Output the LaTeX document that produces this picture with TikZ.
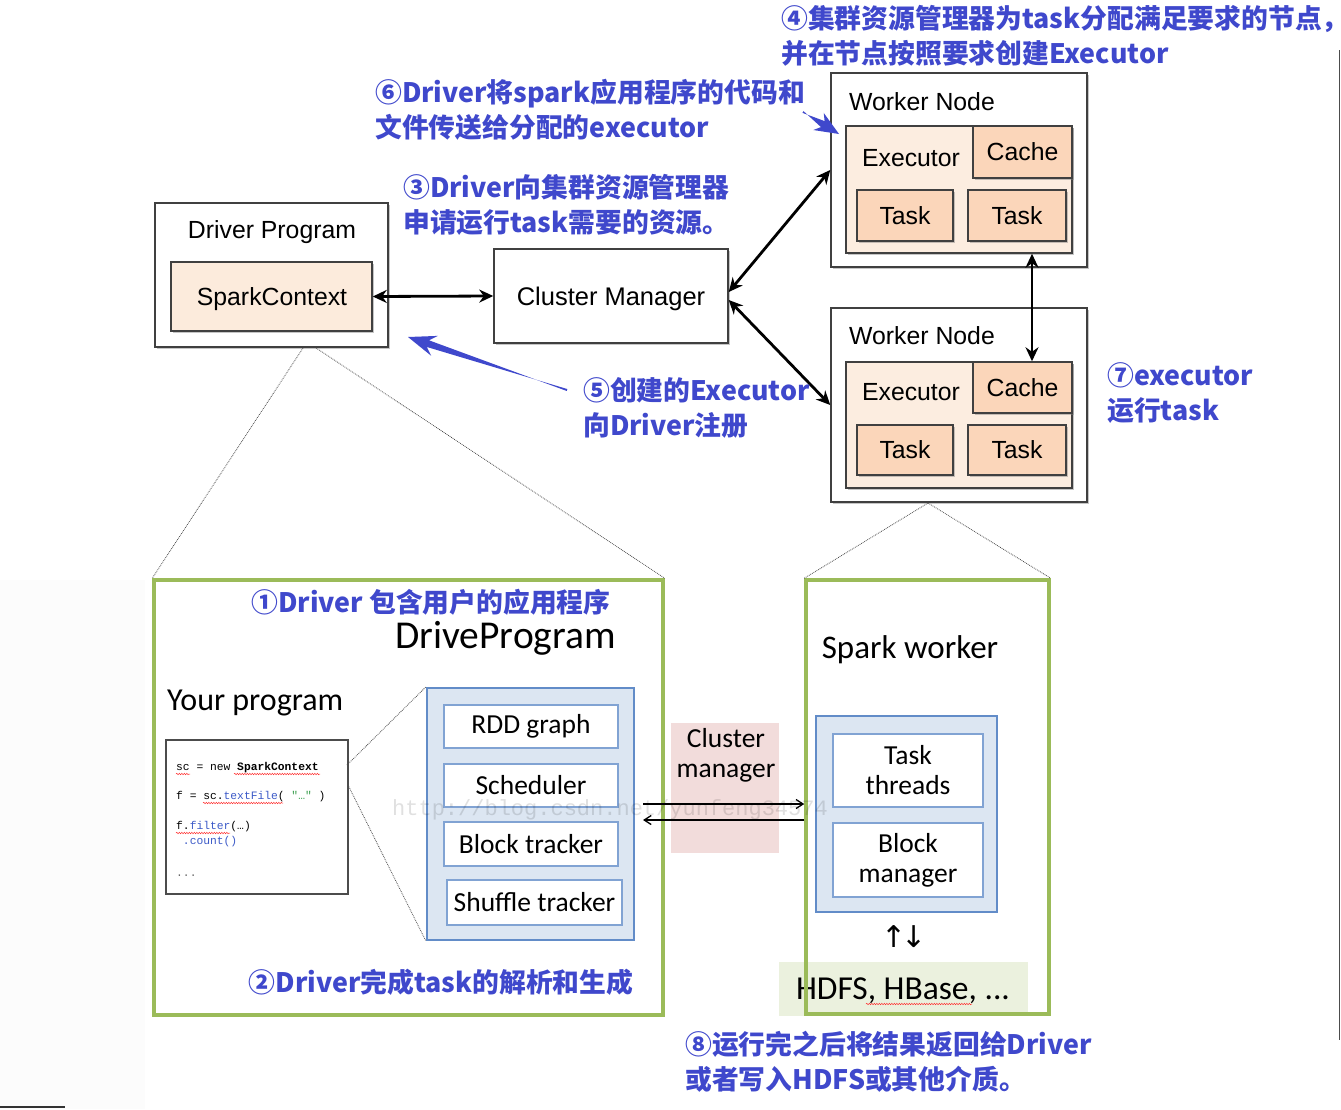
\documentclass[tikz,border=0pt]{standalone}
\usepackage{fontspec}
\setmainfont{Liberation Sans}
\newfontfamily\cjkfont{Noto Sans CJK SC}
\newfontfamily\calfont{Carlito}
\newfontfamily\codefont{Liberation Mono}
\newfontfamily\symfont{DejaVu Sans}
\usetikzlibrary{arrows.meta,shadows,calc,decorations.pathmorphing}
\definecolor{lblue}{RGB}{63,72,204}
\definecolor{peachl}{RGB}{252,237,224}
\definecolor{peachd}{RGB}{251,214,186}
\definecolor{sgreen}{RGB}{155,187,89}
\definecolor{bfill}{RGB}{220,230,242}
\definecolor{bline}{RGB}{98,140,200}
\definecolor{cmpink}{RGB}{242,220,219}
\definecolor{hgreen}{RGB}{235,241,222}
\definecolor{codeblue}{RGB}{60,90,200}
\definecolor{codegreen}{RGB}{60,160,80}
\begin{document}
\begin{tikzpicture}[x=1pt,y=-1pt,
  box/.style={draw=black!75,line width=1.5pt,fill=white,inner sep=0pt,
    drop shadow={shadow xshift=1.5pt,shadow yshift=-1.5pt,fill=black!50,opacity=.45}},
  pbox/.style={box,fill=peachl},
  dbox/.style={box,fill=peachd},
  hv/.style={font=\fontsize{24.8}{28}\selectfont,inner sep=0pt},
  lab/.style={text=lblue,font=\cjkfont\bfseries\fontsize{26.8}{35}\selectfont,align=left,inner sep=0pt},
  blk2/.style={{Stealth[length=14pt,width=13pt]}-{Stealth[length=14pt,width=13pt]},line width=2.8pt},
  dots/.style={densely dotted,black!70,line width=0.8pt},
  gbox/.style={draw=sgreen,line width=3.5pt,inner sep=0pt},
  bluebox/.style={draw=bline,line width=2.2pt,fill=bfill,inner sep=0pt},
  wbox/.style={draw=bline!80,line width=1.3pt,fill=white,inner sep=0pt,
    font=\calfont\fontsize{27.5}{30}\selectfont,align=center},
  cal/.style={font=\calfont\fontsize{#1}{#1}\selectfont,inner sep=0pt},
  code/.style={font=\codefont\fontsize{11.3}{12}\selectfont,inner sep=0pt,anchor=west},
  snake/.style={red!80,line width=0.5pt,decorate,decoration={snake,amplitude=0.7pt,segment length=2.5pt}},
]
\useasboundingbox (0,0) rectangle (1341,1109);
\fill[white] (0,0) rectangle (1341,1109);
\fill[black!1] (0,580) rectangle (145,1109);

% ---------------- top diagram ----------------
\node[box,minimum width=233pt,minimum height=144pt] (dp) at (271.5,275) {};
\node[hv] (dpt) at (272,232) {Driver Program};
\node[box,fill=peachl!90!peachd,minimum width=201pt,minimum height=69pt] (sc) at (271.5,296.5) {};
\node[hv] (sct) at (272,299) {SparkContext};
\node[box,minimum width=234pt,minimum height=94pt] (cm) at (611,296) {};
\node[hv,font=\fontsize{25.5}{28}\selectfont] (cmt) at (611,299) {Cluster Manager};

\node[box,minimum width=256pt,minimum height=194pt] (w1) at (959,170) {};
\node[hv] (w1t) at (922,102) {Worker Node};
\node[pbox,minimum width=226pt,minimum height=127pt] (e1) at (959,189.5) {};
\node[hv] (e1t) at (911,158) {Executor};
\node[dbox,minimum width=99pt,minimum height=52pt,hv] (c1) at (1022.5,152) {Cache};
\node[dbox,minimum width=96pt,minimum height=51pt,hv] (t1a) at (905,215.5) {Task};
\node[dbox,minimum width=98pt,minimum height=51pt,hv] (t1b) at (1017,215.5) {Task};

\node[box,minimum width=256pt,minimum height=194pt] (w2) at (959,405) {};
\node[hv] (w2t) at (922,336) {Worker Node};
\node[pbox,minimum width=226pt,minimum height=126pt] (e2) at (959,425) {};
\node[hv] (e2t) at (911,392) {Executor};
\node[dbox,minimum width=99pt,minimum height=51pt,hv] (c2) at (1022.5,387.5) {Cache};
\node[dbox,minimum width=96pt,minimum height=50pt,hv] (t2a) at (905,450) {Task};
\node[dbox,minimum width=98pt,minimum height=50pt,hv] (t2b) at (1017,450) {Task};

\draw[blk2] (sc.east) -- (cm.west);
\draw[blk2] ($(cm.east)+(0,-4)$) -- (w1.west);
\draw[blk2] ($(cm.east)+(0,4)$) -- (w2.west);
\draw[blk2] ($(e1.south -| c1.center)+(9.5,0)$) -- ($(c2.north)+(9.5,0)$);

% ---------------- labels ----------------
\node[lab,anchor=west] (l4) at (781,35.5) {④集群资源管理器为task分配满足要求的节点，\\并在节点按照要求创建Executor};
\node[lab,anchor=west] (l6) at (375,109.5) {⑥Driver将spark应用程序的代码和\\文件传送给分配的executor};
\node[lab,anchor=west] (l3) at (403,205) {③Driver向集群资源管理器\\申请运行task需要的资源。};
\node[lab,anchor=west] (l5) at (583,407.5) {⑤创建的Executor\\向Driver注册};
\node[lab,anchor=west] (l7) at (1107,393) {⑦executor\\运行task};
\node[lab,anchor=west] (l8) at (685,1061.5) {⑧运行完之后将结果返回给Driver\\或者写入HDFS或其他介质。};

% blue pointer arrows
\coordinate (t5) at (567,390);
\coordinate (h5) at (408,337);
\coordinate (b5) at ($(h5)!28pt!(t5)$);
\coordinate (n5) at ($(h5)!21pt!(t5)$);
\fill[lblue] ($(t5)!1pt!90:(h5)$) -- ($(n5)!3.5pt!-90:(h5)$) -- ($(b5)!10.5pt!-90:(h5)$) -- (h5)
  -- ($(b5)!10.5pt!90:(h5)$) -- ($(n5)!3.5pt!90:(h5)$) -- ($(t5)!1pt!-90:(h5)$) -- cycle;
\coordinate (t6) at (803,112);
\coordinate (h6) at (839,134);
\coordinate (b6) at ($(h6)!24pt!(t6)$);
\coordinate (n6) at ($(h6)!19pt!(t6)$);
\fill[lblue] ($(t6)!1pt!90:(h6)$) -- ($(n6)!3.5pt!-90:(h6)$) -- ($(b6)!10pt!-90:(h6)$) -- (h6)
  -- ($(b6)!10pt!90:(h6)$) -- ($(n6)!3.5pt!90:(h6)$) -- ($(t6)!1pt!-90:(h6)$) -- cycle;

% ---------------- bottom left ----------------
\node[gbox,minimum width=509pt,minimum height=435pt] (gl) at (408.5,797.5) {};
\node[lab] (l1) at (431,602) {①Driver 包含用户的应用程序};
\node[cal=39.5,anchor=east] (dprog) at (616,638) {DriveProgram};
\node[cal=32,anchor=west] (yp) at (167,703) {Your program};

\node[draw=black!70,line width=1.2pt,fill=white,minimum width=182pt,minimum height=154pt,inner sep=0pt] (cb) at (257,817) {};
\node[code] (cl1) at (176,768) {sc = new \textbf{SparkContext}};
\node[code] (cl2) at (176,797) {f = sc.\textcolor{codeblue}{textFile}( \textcolor{codegreen}{"…"} )};
\node[code] (cl3) at (176,827) {f.\textcolor{codeblue}{filter}(…)};
\node[code,text=codeblue] (cl4) at (176,842) {\ .count()};
\node[code,text=black!60] (cl5) at (176,876) {...};
\draw[snake] (176,774) -- (190,774);
\draw[snake] (234,774) -- (320,774);
\draw[snake] (203,803) -- (283,803);
\draw[snake] (176,833) -- (230,833);

\node[bluebox,minimum width=207pt,minimum height=252pt] (bb) at (530.5,814) {};
\node[wbox,minimum width=174pt,minimum height=43pt] (rdd) at (531,726.5) {RDD graph};
\node[wbox,minimum width=174pt,minimum height=43pt] (sch) at (531,785.5) {Scheduler};
\node[wbox,minimum width=174pt,minimum height=44pt] (blt) at (531,844) {Block tracker};
\node[wbox,minimum width=175pt,minimum height=45pt] (sht) at (534.5,902.5) {Shuffle tracker};

\draw[dots] (347,765) -- (bb.north west);
\draw[dots] (348,785) -- (bb.south west);

\node[lab] (l2) at (441,982) {②Driver完成task的解析和生成};

% ---------------- cluster manager (bottom) ----------------
\node[fill=cmpink,minimum width=108pt,minimum height=130pt,inner sep=0pt] (cmp) at (725,788) {};
\node[inner sep=0pt,align=center,font=\calfont\fontsize{27.5}{30}\selectfont] (cmt2) at (726,755) {Cluster\\manager};

% ---------------- bottom right ----------------
\node[fill=hgreen,minimum width=249pt,minimum height=54pt,inner sep=0pt] (hd) at (903.5,989) {};
\node[cal=33.5] (hdt) at (903,991) {HDFS, HBase, ...};
\draw[snake] (866,1004) -- (972,1004);
\node[gbox,minimum width=243pt,minimum height=434pt] (gr) at (927.5,797) {};
\node[cal=33] (sw) at (910,650) {Spark worker};
\node[bluebox,minimum width=181pt,minimum height=196pt] (wb) at (906.5,814) {};
\node[wbox,minimum width=150pt,minimum height=73pt] (tt) at (908,770.5) {Task\\threads};
\node[wbox,minimum width=150pt,minimum height=74pt] (bm) at (908,860) {Block\\manager};
\node[inner sep=0pt,font=\symfont\fontsize{30}{30}\selectfont] (ud) at (904,937) {↑\kern-5pt↓};

\coordinate (a1s) at (643,804);
\coordinate (a2e) at (643,820);
\draw[line width=1.3pt,-{Straight Barb[length=7pt,width=9pt]}] (a1s) -- (a1s -| gr.west);
\draw[line width=1.3pt,-{Straight Barb[length=7pt,width=9pt]}] (a2e -| gr.west) -- (a2e);

% dotted zoom lines
\coordinate (dpa) at (303,348);
\coordinate (dpb) at (316,348);
\draw[dots] (dpa) -- (gl.north west);
\draw[dots] (dpb) -- (gl.north east);
\coordinate (wpa) at (928,503);
\draw[dots] (wpa) -- (gr.north west);
\draw[dots] (wpa) -- (gr.north east);

% watermark
\node[inner sep=0pt,font=\codefont\fontsize{22}{22}\selectfont,text=black,opacity=0.12] (wm) at (610,810) {http://blog.csdn.net/yunfeng34574};

% screen edge artefacts
\draw[black!70,line width=1pt] (1339,50) -- (1339,1040);
\draw[black!80,line width=2pt] (0,1107) -- (65,1107);
\end{tikzpicture}
\end{document}
